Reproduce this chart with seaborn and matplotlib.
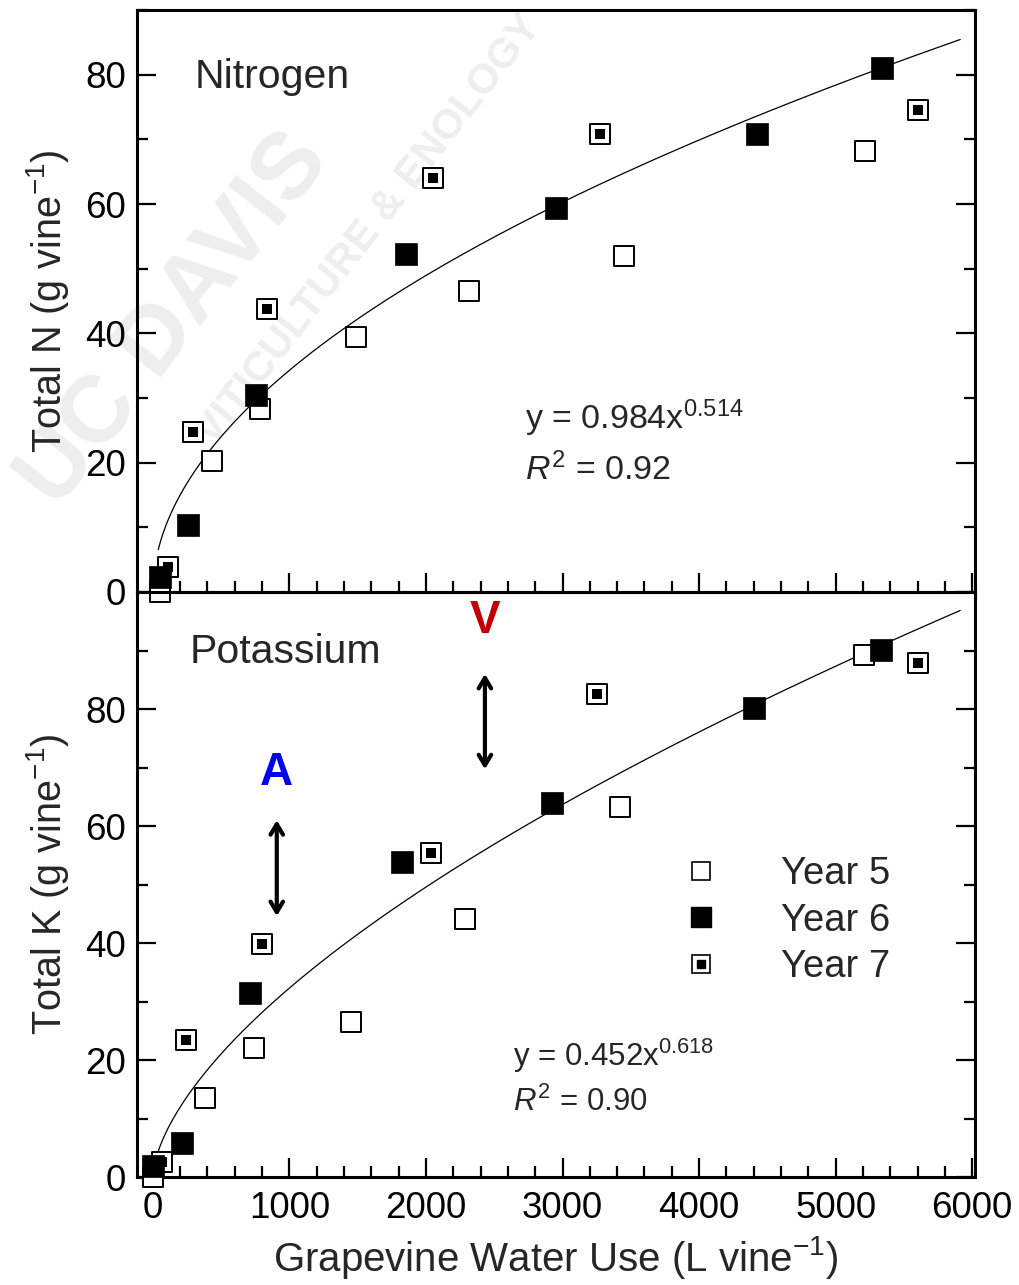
import matplotlib as mpl
import matplotlib.pyplot as plt
from matplotlib.lines import Line2D
import pandas as pd
import numpy as np
import seaborn as sns

#_______________________________________________________________
# data
n_y5_x = [51, 432, 784, 1487, 2315, 3450, 5216]
n_y5_y = [0.0, 20.3, 28.3, 39.5, 46.5, 52.0, 68.2]
n_y6_x = [51, 256, 755, 1853, 2952, 4425, 5341]
n_y6_y = [2.3, 10.3, 30.5, 52.3, 59.4, 70.8, 81.1]
n_y7_x = [110, 293, 835, 2051, 3275, 5604]
n_y7_y = [3.8, 24.8, 43.7, 64.0, 70.9, 74.6]

k_y5_x = [0, 381, 740, 1450, 2286, 3421, 5209]
k_y5_y = [0.0, 13.5, 22.0, 26.5, 44.1, 63.2, 89.2]
k_y6_x = [0, 212, 711, 1824, 2923, 4403, 5333]
k_y6_y = [1.9, 5.8, 31.5, 53.8, 63.9, 80.2, 90.1]
k_y7_x = [66, 242, 799, 2037, 3253, 5604]
k_y7_y = [2.6, 23.4, 39.8, 55.4, 82.6, 87.9]

# power fits printed on the chart: y = a * x^b
fit_n = (0.984, 0.514)
fit_k = (0.452, 0.618)
fit_n_range = (40, 5912)
fit_k_range = (10, 5912)

years = ['Year 5', 'Year 6', 'Year 7']
#_______________________________________________________________

sns.set_style('ticks')
plt.rcParams['font.family'] = ['Liberation Sans', 'DejaVu Sans']
plt.rcParams['mathtext.fontset'] = 'custom'
plt.rcParams['mathtext.rm'] = 'Liberation Sans'
plt.rcParams['mathtext.it'] = 'Liberation Sans:italic'
plt.rcParams['mathtext.bf'] = 'Liberation Sans:bold'

fig = plt.figure(figsize=(10.19, 12.85), dpi=100)
ax1 = fig.add_axes([0.1345, 0.5393, 0.8223, 0.4529])
ax2 = fig.add_axes([0.1345, 0.0840, 0.8223, 0.4553], sharex=ax1)

SQ = 250


def draw_panel(ax, x5, y5, x6, y6, x7, y7, fit, frange):
    a, b = fit
    xs = np.linspace(frange[0], frange[1], 300)
    sns.lineplot(x=xs, y=a * xs ** b, ax=ax, color='black', lw=0.9, zorder=2)
    sns.scatterplot(x=x5, y=y5, ax=ax, marker='s', s=SQ * 0.82, facecolor='white',
                    edgecolor='black', linewidth=1.4, zorder=3, clip_on=False)
    sns.scatterplot(x=x6, y=y6, ax=ax, marker='s', s=SQ, color='black',
                    edgecolor='black', linewidth=0.5, zorder=4, clip_on=False)
    sns.scatterplot(x=x7, y=y7, ax=ax, marker='s', s=SQ * 0.75, facecolor='white',
                    edgecolor='black', linewidth=1.4, zorder=3, clip_on=False)
    sns.scatterplot(x=x7, y=y7, ax=ax, marker='s', s=SQ * 0.2, color='black',
                    linewidth=0, zorder=5, clip_on=False)


draw_panel(ax1, n_y5_x, n_y5_y, n_y6_x, n_y6_y, n_y7_x, n_y7_y, fit_n, fit_n_range)
draw_panel(ax2, k_y5_x, k_y5_y, k_y6_x, k_y6_y, k_y7_x, k_y7_y, fit_k, fit_k_range)

ax1.set_xlim(-115, 6020)
ax1.set_ylim(0, 90)
ax2.set_ylim(0, 100)

for ax in (ax1, ax2):
    for sp in ax.spines.values():
        sp.set_linewidth(2.2)
        sp.set_color('black')
    ax.set_yticks([0, 20, 40, 60, 80])
    ax.set_yticks(np.arange(0, 100, 10), minor=True)
    ax.set_xticks(np.arange(0, 7000, 1000))
    ax.set_xticks(np.arange(0, 6001, 200), minor=True)
    ax.tick_params(which='both', direction='in', width=1.6, colors='black',
                   labelsize=26.5, right=True)
    ax.tick_params(which='major', length=14)
    ax.tick_params(which='minor', length=8)
    ax.set_facecolor('none')

ax1.tick_params(axis='x', which='both', bottom=True, top=False, labelbottom=False)
ax2.tick_params(axis='x', which='both', bottom=True, top=False, pad=10)
ax1.tick_params(axis='y', pad=8)
ax2.tick_params(axis='y', pad=8)

ax1.set_ylabel('Total N (g vine$^{-1}$)', fontsize=28.5, labelpad=10)
ax2.set_ylabel('Total K (g vine$^{-1}$)', fontsize=28.5, labelpad=10)
ax2.set_xlabel('Grapevine Water Use (L vine$^{-1}$)', fontsize=29, labelpad=6)
ax1.set_xlabel('')

# panel titles and fit equations
ax1.text(308, 79.7, 'Nitrogen', fontsize=29.5, va='center', ha='left')
ax2.text(271, 89.7, 'Potassium', fontsize=29.5, va='center', ha='left')
ax1.text(2725, 26.8, 'y = 0.984x$^{0.514}$', fontsize=24.5, va='center', ha='left')
ax1.text(2725, 18.9, '$\\it{R}^{2}$ = 0.92', fontsize=24.5, va='center', ha='left')
ax2.text(2637, 20.7, 'y = 0.452x$^{0.618}$', fontsize=22.5, va='center', ha='left')
ax2.text(2637, 12.8, '$\\it{R}^{2}$ = 0.90', fontsize=22.5, va='center', ha='left')

# V / A markers with double arrows
ax2.text(2432, 95.0, 'V', fontsize=33, fontweight='bold', color='#c00000',
         ha='center', va='center')
ax2.text(908, 69.0, 'A', fontsize=33, fontweight='bold', color='#0000ee',
         ha='center', va='center')
arrow_kw = dict(arrowstyle='<->,head_length=0.75,head_width=0.45', lw=3, color='black',
                shrinkA=0, shrinkB=0)
ax2.annotate('', xy=(2432, 86.0), xytext=(2432, 69.7), arrowprops=arrow_kw)
ax2.annotate('', xy=(908, 61.0), xytext=(908, 44.6), arrowprops=arrow_kw)

# legend
h5 = Line2D([], [], ls='none', marker='s', ms=13.5, mfc='white', mec='black', mew=1.2)
h6 = Line2D([], [], ls='none', marker='s', ms=14.5, mfc='black', mec='black')
h7a = Line2D([], [], ls='none', marker='s', ms=13.5, mfc='white', mec='black', mew=1.2)
h7b = Line2D([], [], ls='none', marker='s', ms=6, mfc='black', mec='black')
ax2.legend([h5, h6, (h7a, h7b)], years, loc='center left',
           bbox_to_anchor=(0.609, 0.438), frameon=False, fontsize=27.5,
           handlelength=1.0, handletextpad=1.6, labelspacing=0.28, borderpad=0.4)

# faint watermark
fig.text(0.172, 0.751, 'UC DAVIS', fontsize=68, fontweight='bold', color='#eeeeee',
         rotation=52, ha='center', va='center', zorder=-1)
fig.text(0.363, 0.821, 'VITICULTURE & ENOLOGY', fontsize=30, fontweight='bold',
         color='#eeeeee', rotation=52, ha='center', va='center', zorder=-1)

fig.savefig('out.png', dpi=100)
